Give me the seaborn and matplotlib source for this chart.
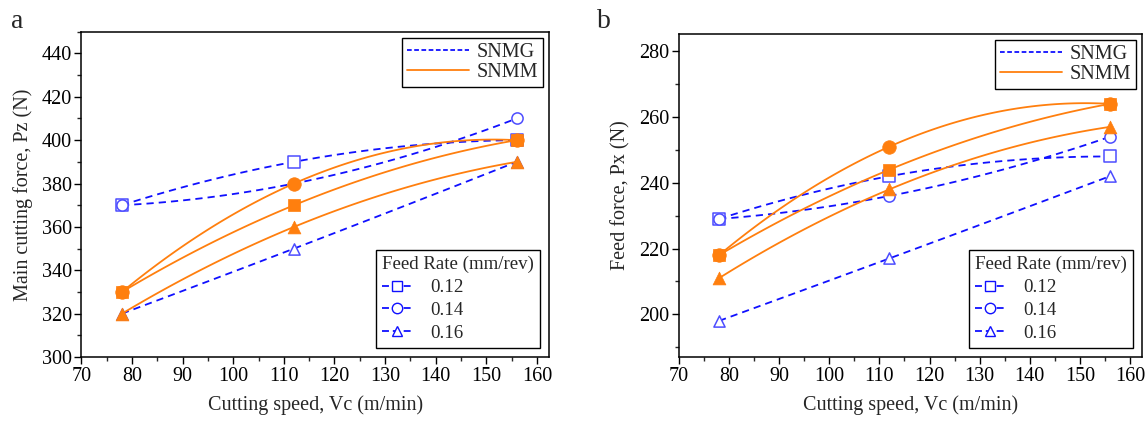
import numpy as np
import pandas as pd
import matplotlib
matplotlib.use("Agg")
import matplotlib.pyplot as plt
from matplotlib.lines import Line2D
from matplotlib.ticker import MultipleLocator
import seaborn as sns

# ---------------- data ----------------
speeds = [78, 112, 156]
feeds = ["0.12", "0.14", "0.16"]

# chart a: main cutting force Pz (N)
pz_snmg_012 = [370, 390, 400]
pz_snmg_014 = [370, 380, 410]
pz_snmg_016 = [320, 350, 390]
pz_snmm_012 = [330, 370, 400]
pz_snmm_014 = [330, 380, 400]
pz_snmm_016 = [320, 360, 390]

# chart b: feed force Px (N)
px_snmg_012 = [229, 242, 248]
px_snmg_014 = [229, 236, 254]
px_snmg_016 = [198, 217, 242]
px_snmm_012 = [218, 244, 264]
px_snmm_014 = [218, 251, 264]
px_snmm_016 = [211, 238, 257]

BLUE = "#1010ff"
ORANGE = "#ff7f0e"
MARKERS = {"0.12": "s", "0.14": "o", "0.16": "^"}

sns.set_theme(style="ticks")
plt.rcParams["font.family"] = ["Liberation Serif", "DejaVu Serif"]
plt.rcParams["font.size"] = 14
plt.rcParams["mathtext.fontset"] = "stix"

fig = plt.figure(figsize=(11.46, 4.23), dpi=100)
ax1 = fig.add_axes([0.0711, 0.156, 0.4080, 0.769])
ax2 = fig.add_axes([0.5925, 0.156, 0.4040, 0.764])

FS = 14.5
LFS = 13.6


def smooth(x, y):
    c = np.polyfit(x, y, 2)
    xs = np.linspace(min(x), max(x), 120)
    return xs, np.polyval(c, xs)


def draw(ax, snmg, snmm):
    # SNMG: blue dashed, open markers
    for f, vals in zip(feeds, snmg):
        xs, ys = smooth(speeds, vals)
        sns.lineplot(x=xs, y=ys, ax=ax, color=BLUE, lw=1.3,
                     linestyle=(0, (4, 2.8)), zorder=2)
        sns.scatterplot(x=speeds, y=vals, ax=ax, marker=MARKERS[f], s=65,
                        facecolor="white", edgecolor="#4d4dff", linewidth=1.1,
                        zorder=3)
    # SNMM: orange solid, filled markers
    for f, vals in zip(feeds, snmm):
        xs, ys = smooth(speeds, vals)
        sns.lineplot(x=xs, y=ys, ax=ax, color=ORANGE, lw=1.3, zorder=4)
        sz = 95 if f == "0.14" else 85
        sns.scatterplot(x=speeds, y=vals, ax=ax, marker=MARKERS[f], s=sz,
                        color=ORANGE, edgecolor=ORANGE, linewidth=0.5,
                        zorder=5)

    ax.set_xlim(70, 162.4)
    ax.xaxis.set_major_locator(MultipleLocator(10))
    ax.xaxis.set_minor_locator(MultipleLocator(5))
    ax.tick_params(which="major", direction="out", length=5, width=1,
                   labelsize=FS, colors="black", pad=2)
    ax.tick_params(which="minor", direction="out", length=3, width=1)
    ax.tick_params(top=False, right=False, which="both")
    for sp in ax.spines.values():
        sp.set_linewidth(1.1)
        sp.set_color("black")
    ax.set_xlabel("Cutting speed, Vc (m/min)", fontsize=FS, labelpad=7)

    leg1 = ax.legend(
        handles=[Line2D([], [], color=BLUE, lw=1.3, linestyle=(0, (2.6, 1.4))),
                 Line2D([], [], color=ORANGE, lw=1.3)],
        labels=["SNMG", "SNMM"], loc="upper right", handlelength=3.1,
        frameon=True, fancybox=False, edgecolor="black", framealpha=1,
        fontsize=FS, borderpad=0.25, labelspacing=0.05, handletextpad=0.35,
        borderaxespad=0.3)
    leg1.get_frame().set_linewidth(1.0)
    ax.add_artist(leg1)

    h2 = [Line2D([], [], color=BLUE, lw=1.3, linestyle=(0, (3.85, 2.15)),
                 marker=MARKERS[f], markerfacecolor="white",
                 markeredgecolor=BLUE, markersize=7.5) for f in feeds]
    leg2 = ax.legend(handles=h2, labels=feeds, loc="lower right",
                     title="Feed Rate (mm/rev)", alignment="left",
                     handlelength=1.55, frameon=True, fancybox=False,
                     edgecolor="black", framealpha=1, fontsize=LFS,
                     title_fontsize=LFS, borderpad=0.3, labelspacing=0.3,
                     handletextpad=1.0, borderaxespad=0.5)
    leg2.get_frame().set_linewidth(1.0)


draw(ax1, [pz_snmg_012, pz_snmg_014, pz_snmg_016],
     [pz_snmm_012, pz_snmm_014, pz_snmm_016])
ax1.set_ylim(300, 450)
ax1.yaxis.set_major_locator(MultipleLocator(20))
ax1.yaxis.set_minor_locator(MultipleLocator(10))
ax1.set_ylabel("Main cutting force, Pz (N)", fontsize=FS, labelpad=6)

draw(ax2, [px_snmg_012, px_snmg_014, px_snmg_016],
     [px_snmm_012, px_snmm_014, px_snmm_016])
ax2.set_ylim(187, 285.3)
ax2.yaxis.set_major_locator(MultipleLocator(20))
ax2.yaxis.set_minor_locator(MultipleLocator(10))
ax2.set_ylabel("Feed force, Px (N)", fontsize=FS, labelpad=6)

fig.text(0.010, 0.92, "a", fontsize=20, ha="left", va="bottom")
fig.text(0.521, 0.92, "b", fontsize=20, ha="left", va="bottom")

fig.savefig("out.png", dpi=100)
